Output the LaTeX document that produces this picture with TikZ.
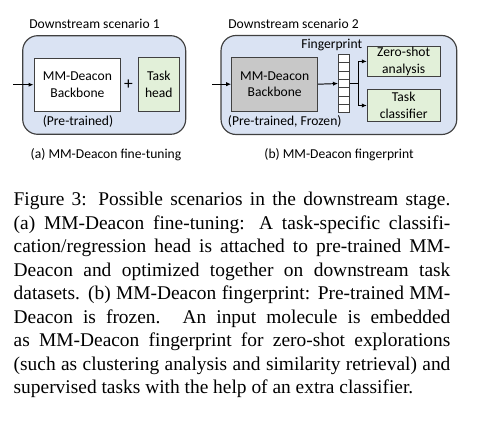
\documentclass[tikz,border=0pt]{standalone}
\usepackage{fontspec}
\setmainfont{Liberation Serif}
\newfontfamily\calibri{Carlito}
\usetikzlibrary{arrows.meta}

\newcommand{\px}{0.515pt}
\definecolor{scenblue}{HTML}{DAE3F3}
\definecolor{headgreen}{HTML}{E2F0D9}
\definecolor{frozengray}{HTML}{C8C8C8}
\definecolor{edgegray}{HTML}{404040}

\tikzset{
  scenbox/.style={draw=edgegray,fill=scenblue,line width=0.6pt,rounded corners=15*\px,inner sep=0pt},
  blockbox/.style={draw=edgegray,line width=0.5pt,inner sep=0pt,align=center,font=\calibri\fontsize{7}{8.5}\selectfont},
  label/.style={inner sep=0pt,font=\calibri\fontsize{7}{8.5}\selectfont},
  cell/.style={draw=edgegray,fill=white,line width=0.5pt,inner sep=0pt,minimum width=10.7*\px,minimum height=8.3*\px},
  flow/.style={-{Latex[length=2.6pt,width=2.2pt]},line width=0.5pt}
}

\begin{document}
\begin{tikzpicture}[x=0.515pt,y=-0.515pt]
  \useasboundingbox (0,0) rectangle (481,421);

  % scenario 1: fine-tuning
  \node[label,anchor=west] (t1) at (29,24) {Downstream scenario 1};
  \node[scenbox,minimum width=163*\px,minimum height=98.6*\px] (scen1) at (104.2,85) {};
  \node[blockbox,fill=white,minimum width=86.7*\px,minimum height=52.7*\px] (bb1) at (77.4,84.7) {MM-Deacon\\Backbone};
  \node[blockbox,fill=headgreen,minimum width=41*\px,minimum height=53.3*\px] (head) at (158.8,84.4) {Task\\head};
  \node[label] (plus) at (128.6,84.7) {\fontsize{9}{10}\selectfont +};
  \node[label] (pre1) at (78,121.7) {(Pre-trained)};
  \coordinate (in1) at (13.3,84.7);
  \draw[flow] (in1) -- (bb1.west);
  \node[label] (cap1) at (106,155) {(a) MM-Deacon fine-tuning};

  % scenario 2: fingerprint
  \node[label,anchor=west] (t2) at (228,24) {Downstream scenario 2};
  \node[scenbox,minimum width=235.7*\px,minimum height=99*\px] (scen2) at (338.9,85) {};
  \node[blockbox,fill=frozengray,minimum width=86*\px,minimum height=53.7*\px] (bb2) at (274.7,84.2) {MM-Deacon\\Backbone};
  \node[label] (pre2) at (284.7,121.7) {(Pre-trained, Frozen)};
  \node[label] (fptext) at (331.7,45) {Fingerprint};
  \foreach \k in {1,...,7}
    \node[cell] (fp\k) at (343.9,{54.5+8.3*(\k-0.5)}) {};
  \node[blockbox,fill=headgreen,minimum width=72.7*\px,minimum height=30.7*\px] (zs) at (403.7,61.4) {Zero-shot\\analysis};
  \node[blockbox,fill=headgreen,minimum width=72.7*\px,minimum height=32.4*\px] (cls) at (403.7,105.5) {Task\\classifier};
  \coordinate (in2) at (212,84.2);
  \coordinate (brx) at (358.2,0);
  \coordinate (br) at (brx |- fp4.east);
  \draw[flow] (in2) -- (bb2.west);
  \draw[flow] (bb2.east) -- (fp4.west);
  \draw[line width=0.5pt] (fp4.east) -- (br);
  \draw[flow] (br) |- (zs.west);
  \draw[flow] (br) |- (cls.west);
  \node[label] (cap2) at (339,155) {(b) MM-Deacon fingerprint};

  % figure caption
  \node[anchor=base west,inner sep=0pt,text width=436.7*\px,align=justify,
        font=\fontsize{10}{12.1}\selectfont] (caption) at (13.3,206) {%
    Figure 3: Possible scenarios in the downstream stage.\linebreak
    (a) MM-Deacon fine-tuning: A task-specific classifi-\linebreak
    cation/regression head is attached to pre-trained MM-\linebreak
    Deacon and optimized together on downstream task\linebreak
    datasets. (b) MM-Deacon fingerprint: Pre-trained MM-\linebreak
    Deacon is frozen. An input molecule is embedded\linebreak
    as MM-Deacon fingerprint for zero-shot explorations\linebreak
    (such as clustering analysis and similarity retrieval) and\linebreak
    supervised tasks with the help of an extra classifier.};
\end{tikzpicture}
\end{document}
